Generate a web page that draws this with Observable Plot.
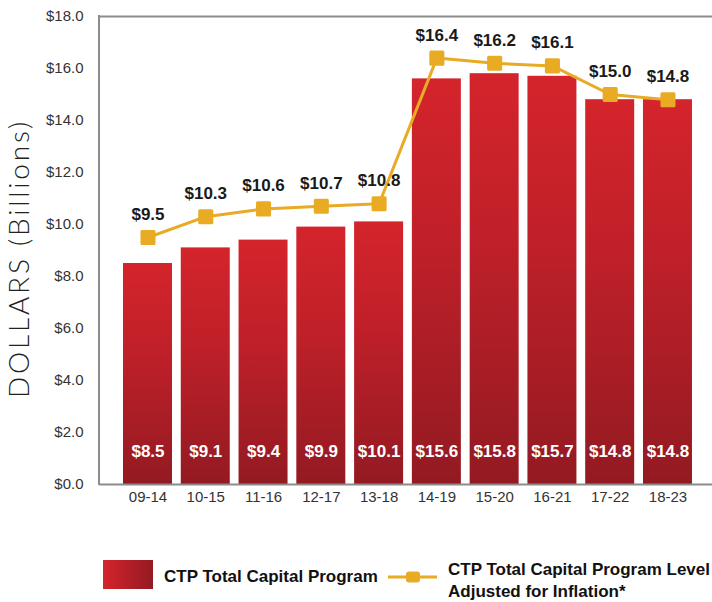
<!DOCTYPE html>
<html>
<head>
<meta charset="utf-8">
<script src="https://cdn.jsdelivr.net/npm/d3@7"></script>
<script src="https://cdn.jsdelivr.net/npm/@observablehq/plot@0.6"></script>
<style>
  html, body { margin: 0; padding: 0; background: #fff; }
  #wrap { position: relative; width: 712px; height: 602px; overflow: hidden; }
  #legend { position: relative; width: 712px; height: 57px; font-family: "Liberation Sans", Arial, sans-serif; font-weight: bold; font-size: 17px; color: #111; }
  #legend .item { position: absolute; }
</style>
</head>
<body>
<div id="wrap"></div>
<script>
const periods = ["09-14", "10-15", "11-16", "12-17", "13-18", "14-19", "15-20", "16-21", "17-22", "18-23"];
const programValues = [8.5, 9.1, 9.4, 9.9, 10.1, 15.6, 15.8, 15.7, 14.8, 14.8];
const inflationValues = [9.5, 10.3, 10.6, 10.7, 10.8, 16.4, 16.2, 16.1, 15.0, 14.8];
const yTicks = [0, 2, 4, 6, 8, 10, 12, 14, 16, 18];
const yTitle = "DOLLARS (Billions)";
const legendProgram = "CTP Total Capital Program";
const legendInflation = ["CTP Total Capital Program Level", "Adjusted for Inflation*"];

const data = periods.map((p, i) => ({period: p, program: programValues[i], inflation: inflationValues[i]}));
const fmt = v => "$" + v.toFixed(1);
const gold = "#e9aa24";

const chart = Plot.plot({
  width: 712,
  height: 545,
  marginTop: 16,
  marginLeft: 99,
  marginRight: 0,
  marginBottom: 61,
  style: {fontFamily: "'Liberation Sans', Arial, sans-serif", fontSize: "15px", color: "#333", background: "white", overflow: "visible"},
  x: {domain: periods, paddingInner: 0.152, paddingOuter: 0.381, align: 0.545, round: false},
  y: {domain: [0, 18]},
  marks: [
    Plot.barY(data, {x: "period", y: "program", fill: "url(#ctpBarGradient)"}),
    Plot.ruleY([0, 18], {stroke: "#8c8c8c", strokeWidth: 2}),
    Plot.axisY({ticks: yTicks, tickFormat: fmt, tickSize: 0, tickPadding: 16, label: null, fill: "#333"}),
    Plot.axisX({tickSize: 0, tickPadding: 7, label: null, fill: "#333"}),
    Plot.line(data, {x: "period", y: "inflation", stroke: gold, strokeWidth: 3}),
    Plot.dot(data, {x: "period", y: "inflation", symbol: "square", r: 6.8, fill: gold, stroke: gold, strokeWidth: 3, strokeLinejoin: "round"}),
    Plot.text(data, {x: "period", y: "inflation", text: d => fmt(d.inflation), dy: -23, fontWeight: "bold", fontSize: 17, fill: "#1a1a1a"}),
    Plot.text(data, {x: "period", y: () => 0, text: d => fmt(d.program), dy: -33, fontWeight: "bold", fontSize: 17, fill: "white"}),
    Plot.text([yTitle], {frameAnchor: "left", textAnchor: "middle", dx: -79, dy: 8, rotate: -90, text: d => d, fontSize: 28, fill: "#222", fontFamily: "Lato, 'DejaVu Sans', sans-serif", fontWeight: 300})
  ]
});

const svg = d3.select(chart);
const defs = svg.insert("defs", ":first-child");
const g = defs.append("linearGradient").attr("id", "ctpBarGradient").attr("x1", 0).attr("y1", 0).attr("x2", 0).attr("y2", 1);
g.append("stop").attr("offset", "0%").attr("stop-color", "#d4242c");
g.append("stop").attr("offset", "40%").attr("stop-color", "#c02029");
g.append("stop").attr("offset", "100%").attr("stop-color", "#931a22");
svg.append("line").attr("x1", 99).attr("x2", 99).attr("y1", 15).attr("y2", 485).attr("stroke", "#8c8c8c").attr("stroke-width", 2);
svg.selectAll("text").filter(function() { return this.textContent === yTitle; }).style("letter-spacing", "2.8px").style("font-weight", 300);

const wrap = document.getElementById("wrap");
wrap.appendChild(chart);

const legend = document.createElement("div");
legend.id = "legend";
legend.innerHTML = `
  <div class="item" style="left:103px; top:15px; width:50px; height:29px; background: linear-gradient(to right, #d4242c, #931a22);"></div>
  <div class="item" style="left:164px; top:22px; line-height:20px; white-space:nowrap;">${legendProgram}</div>
  <svg class="item" style="left:386px; top:22px;" width="54" height="20">
    <line x1="2" x2="51" y1="10" y2="10" stroke="${gold}" stroke-width="3"/>
    <rect x="20" y="4.5" width="14" height="11" rx="3" fill="${gold}"/>
  </svg>
  <div class="item" style="left:448px; top:14px; line-height:22px; white-space:nowrap;">${legendInflation[0]}<br>${legendInflation[1]}</div>
`;
wrap.appendChild(legend);
</script>
</body>
</html>
